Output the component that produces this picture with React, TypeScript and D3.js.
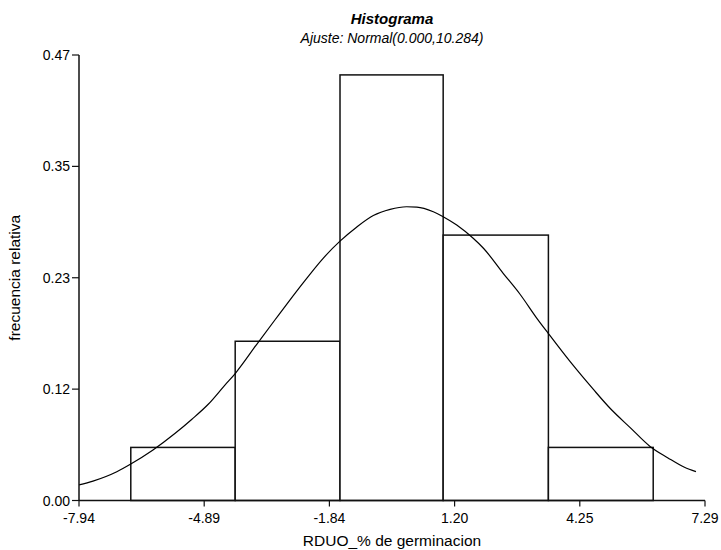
import React from "react";
import * as d3 from "d3";

const title = "Histograma";
const subtitle = "Ajuste: Normal(0.000,10.284)";
const xTitle = "RDUO_% de germinacion";
const yTitle = "frecuencia relativa";

const xTickLabels = ["-7.94", "-4.89", "-1.84", "1.20", "4.25", "7.29"];
const yTickLabels = ["0.00", "0.12", "0.23", "0.35", "0.47"];

const binEdges = [-6.68, -4.14, -1.59, 0.92, 3.48, 6.03];
const binFreq = [0.056, 0.168, 0.449, 0.28, 0.056];

const curveX = [
  -7.94, -7.6, -7.02, -6.68, -6.14, -5.6, -5.2, -4.79, -4.39, -4.13, -3.62, -3.17,
  -2.81, -2.4, -2.0, -1.59, -1.18, -0.78, -0.37, 0.03, 0.28, 0.68, 0.92, 1.25, 1.65,
  1.9, 2.38, 2.79, 3.2, 3.48, 4.01, 4.57, 4.98, 5.47, 5.96, 6.38, 6.79, 7.07,
];
const curveY = [
  0.0164, 0.0205, 0.0304, 0.0385, 0.0533, 0.0709, 0.0855, 0.1018, 0.1218, 0.1345,
  0.1645, 0.1907, 0.2115, 0.2344, 0.2555, 0.2736, 0.2886, 0.3006, 0.3072, 0.3099,
  0.3096, 0.3046, 0.2994, 0.2906, 0.2766, 0.2661, 0.2397, 0.2176, 0.1922, 0.1761,
  0.1464, 0.1174, 0.0973, 0.0769, 0.0568, 0.0452, 0.035, 0.0304,
];

const W = 721;
const H = 550;
const left = 79;
const right = 705;
const top = 55;
const bottom = 500.5;
const font = "'Liberation Sans', Arial, sans-serif";

export default function App() {
  const xMin = parseFloat(xTickLabels[0]);
  const xMax = parseFloat(xTickLabels[xTickLabels.length - 1]);
  const yMax = parseFloat(yTickLabels[yTickLabels.length - 1]);
  const x = d3.scaleLinear().domain([xMin, xMax]).range([left, right]);
  const y = d3.scaleLinear().domain([0, yMax]).range([bottom, top]);

  const xTicks = xTickLabels.map((l, i) => ({
    label: l,
    v: xMin + (i * (xMax - xMin)) / (xTickLabels.length - 1),
  }));
  const yTicks = yTickLabels.map((l, i) => ({
    label: l,
    v: (i * yMax) / (yTickLabels.length - 1),
  }));

  const pts: [number, number][] = curveX.map((cx, i) => [cx, curveY[i]]);
  const line = d3
    .line<[number, number]>()
    .x((d) => x(d[0]))
    .y((d) => y(d[1]))
    .curve(d3.curveMonotoneX);

  const cx = (left + right) / 2;

  return (
    <svg
      width={W}
      height={H}
      style={{ position: "absolute", left: 0, top: 0, background: "#fff" }}
      fontFamily={font}
    >
      <rect x={0} y={0} width={W} height={H} fill="#fff" />
      <text x={cx} y={24} textAnchor="middle" fontSize={15} fontWeight="bold" fontStyle="italic" fill="#000">
        {title}
      </text>
      <text x={cx} y={43} textAnchor="middle" fontSize={14} fontStyle="italic" fill="#000">
        {subtitle}
      </text>

      {binFreq.map((f, i) => (
        <rect
          key={i}
          x={x(binEdges[i])}
          y={y(f)}
          width={x(binEdges[i + 1]) - x(binEdges[i])}
          height={y(0) - y(f)}
          fill="#fff"
          stroke="#111"
          strokeWidth={1.5}
        />
      ))}

      <path d={line(pts) || ""} fill="none" stroke="#000" strokeWidth={1.2} />

      <line x1={left} x2={left} y1={top} y2={bottom} stroke="#111" strokeWidth={1.5} />
      <line x1={left} x2={right} y1={bottom} y2={bottom} stroke="#111" strokeWidth={1.5} />

      {yTicks.map((t, i) => (
        <g key={i}>
          <line x1={left - 7} x2={left} y1={y(t.v)} y2={y(t.v)} stroke="#111" strokeWidth={1.2} />
          <text x={left - 9} y={y(t.v) + 5} textAnchor="end" fontSize={14} fill="#000">
            {t.label}
          </text>
        </g>
      ))}
      {xTicks.map((t, i) => (
        <g key={i}>
          <line x1={x(t.v)} x2={x(t.v)} y1={bottom} y2={bottom + 6} stroke="#111" strokeWidth={1.2} />
          <text x={x(t.v)} y={523} textAnchor="middle" fontSize={14} fill="#000">
            {t.label}
          </text>
        </g>
      ))}

      <text x={cx} y={546} textAnchor="middle" fontSize={15.5} fill="#000">
        {xTitle}
      </text>
      <text
        transform={`translate(20, ${(top + bottom) / 2}) rotate(-90)`}
        textAnchor="middle"
        fontSize={15.5}
        fill="#000"
      >
        {yTitle}
      </text>
    </svg>
  );
}
